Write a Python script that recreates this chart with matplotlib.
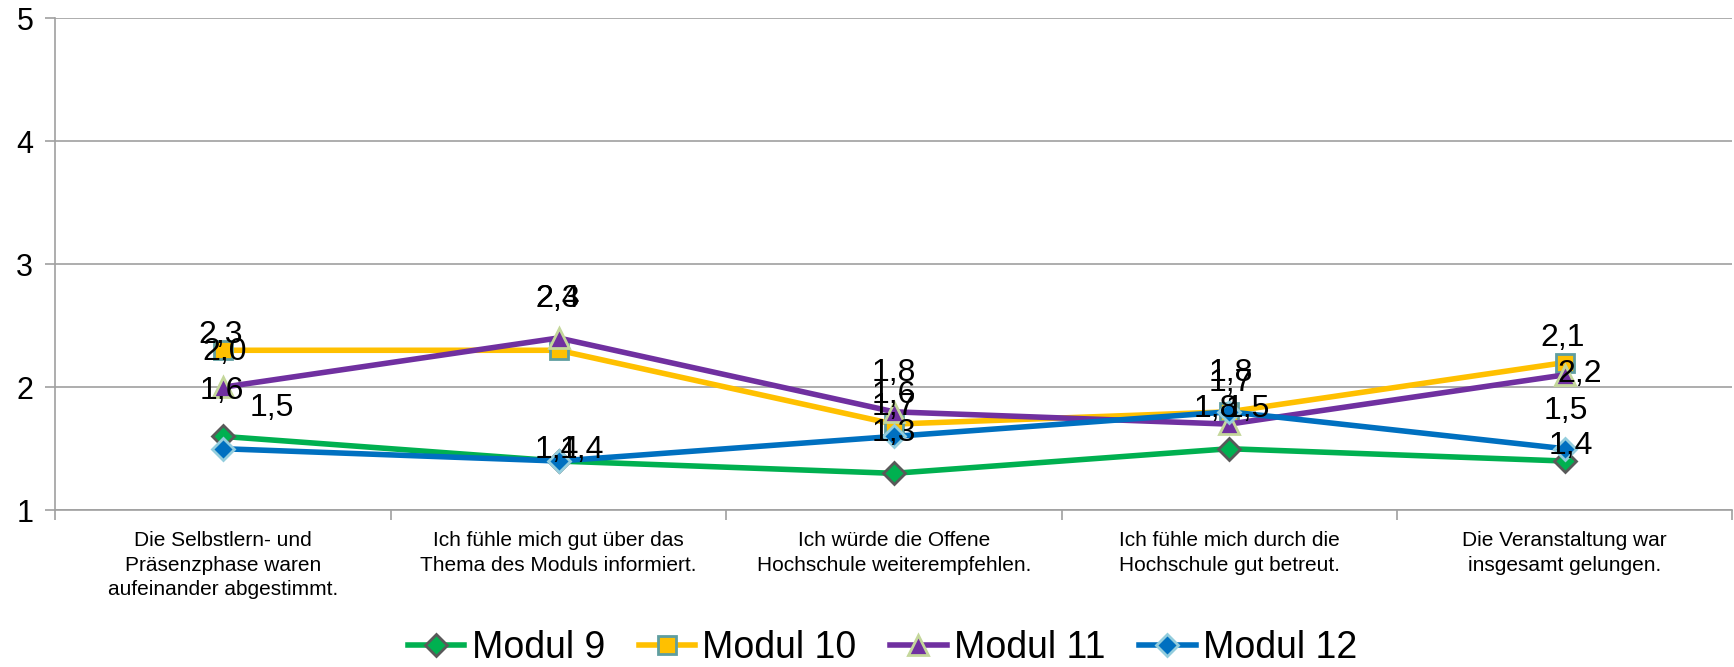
import matplotlib
matplotlib.use("Agg")
import matplotlib.pyplot as plt

plt.rcParams["font.family"] = ["Liberation Sans", "DejaVu Sans"]

# categories and values per series
categories = [
    "Die Selbstlern- und\nPräsenzphase waren\naufeinander abgestimmt.",
    "Ich fühle mich gut über das\nThema des Moduls informiert.",
    "Ich würde die Offene\nHochschule weiterempfehlen.",
    "Ich fühle mich durch die\nHochschule gut betreut.",
    "Die Veranstaltung war\ninsgesamt gelungen.",
]
modul_9 = [1.6, 1.4, 1.3, 1.5, 1.4]
modul_10 = [2.3, 2.3, 1.7, 1.8, 2.2]
modul_11 = [2.0, 2.4, 1.8, 1.7, 2.1]
modul_12 = [1.5, 1.4, 1.6, 1.8, 1.5]
series_names = ["Modul 9", "Modul 10", "Modul 11", "Modul 12"]
y_ticks = [1, 2, 3, 4, 5]

# styles (colour, marker, edge colour, marker size)
styles = [
    ("#00B050", "D", "#595959", 11),
    ("#FFC000", "s", "#5F9EA0", 13),
    ("#7030A0", "^", "#C4D79B", 14),
    ("#0070C0", "D", "#93CDDD", 11),
]
# data label offsets in pixels (Excel layout, labels overlap as in original)
label_offsets = [
    [(-1, 45), (-2, 11), (0, 40), (19, 40), (6, 15)],
    [(-3, 15), (-1, 51), (0, 17), (2, 39), (15, -11)],
    [(1, 35), (-1, 39), (0, 39), (2, 41), (-2, 37)],
    [(49, 41), (23, 11), (0, 41), (-13, 3), (1, 38)],
]

fig = plt.figure(figsize=(17.34, 6.67), dpi=100)
ax = fig.add_axes([0.032, 0.235, 0.967, 0.738])

x = list(range(len(categories)))
all_series = [modul_9, modul_10, modul_11, modul_12]
for vals, name, (col, mk, ec, ms), offs in zip(all_series, series_names, styles, label_offsets):
    ax.plot(x, vals, color=col, lw=4, marker=mk, markersize=ms,
            markerfacecolor=col, markeredgecolor=ec, markeredgewidth=2,
            label=name, zorder=3)
    for xi, v, (dx, dy) in zip(x, vals, offs):
        ax.annotate(f"{v:.1f}".replace(".", ","), (xi, v), xytext=(dx, dy),
                    textcoords="offset pixels", ha="center", va="center",
                    fontsize=23, color="black", zorder=4)

ax.set_xlim(-0.5, len(categories) - 0.5)
ax.set_ylim(1, 5)
ax.set_yticks(y_ticks)
ax.set_yticklabels([str(t) for t in y_ticks], fontsize=22)
ax.set_xticks(x)
ax.set_xticklabels(categories, fontsize=15, linespacing=1.38)
ax.set_xticks([i - 0.5 for i in range(len(categories) + 1)], minor=True)
ax.tick_params(axis="x", which="major", length=0, pad=15)
ax.tick_params(axis="x", which="minor", length=7, color="#A0A0A0", width=1.2)
ax.tick_params(axis="y", length=7, color="#A0A0A0", width=1.2, pad=9)

ax.grid(axis="y", color="#A0A0A0", lw=1.2)
ax.set_axisbelow(True)
for s in ["top", "right"]:
    ax.spines[s].set_visible(False)
for s in ["left", "bottom"]:
    ax.spines[s].set_color("#A0A0A0")
    ax.spines[s].set_linewidth(1.2)

fig.legend(loc="center", bbox_to_anchor=(0.509, 0.028), ncol=4, frameon=False,
           fontsize=27, handlelength=1.5, handletextpad=0.2, columnspacing=0.9,
           borderpad=0.1)

fig.savefig("out.png", dpi=100)
